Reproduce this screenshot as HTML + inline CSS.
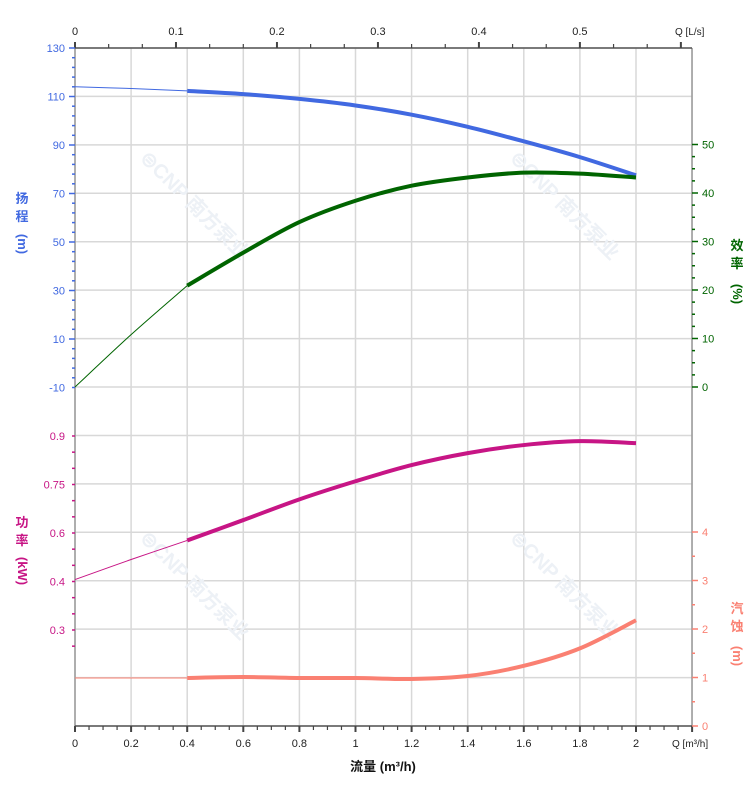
<!DOCTYPE html>
<html><head><meta charset="utf-8"><style>
body{margin:0;background:#fff;width:752px;height:797px;overflow:hidden;font-family:"Liberation Sans","Noto Sans CJK SC",sans-serif}
</style></head><body>
<svg id="c" width="752" height="797" xmlns="http://www.w3.org/2000/svg" style="font-family:'Liberation Sans','Noto Sans CJK SC',sans-serif;font-size:11px"></svg>
<script>
const flowQ=[0,0.2,0.4,0.6,0.8,1.0,1.2,1.4,1.6,1.8,2.0];
const headH=[114,113.3,112.3,111,109,106.3,102.5,97.5,91.5,85,77.5];
const effE=[0,10.8,20.9,27.7,34,38.4,41.5,43.2,44.2,44,43.2];
const powerP=[0.456,0.518,0.577,0.64,0.704,0.76,0.81,0.847,0.872,0.884,0.878];
const npshN=[0.99,0.99,0.99,1.01,0.99,0.99,0.97,1.03,1.24,1.6,2.18];
const bottomTicks=[0,0.2,0.4,0.6,0.8,1,1.2,1.4,1.6,1.8,2];
const topTicks=[0,0.1,0.2,0.3,0.4,0.5];
const headTicks=[130,110,90,70,50,30,10,-10];
const effTicks=[50,40,30,20,10,0];
const powerTicks=[0.9,0.75,0.6,0.45,0.3];
const powerLabels=["0.9","0.75","0.6","0.4","0.3"];
const npshTicks=[4,3,2,1,0];

const L=75,R=692,T=48,B=726;
const x=q=>L+q*280.5;
const xLs=v=>x(v*3.6);
const yH=h=>48+(130-h)*48.5/20;
const yE=e=>387-e*4.85;
const yP=p=>436+(0.9-p)*48.5/0.15;
const yN=n=>726-n*48.5;
const s=document.getElementById('c');
const NS='http://www.w3.org/2000/svg';
function el(t,a,txt){const e=document.createElementNS(NS,t);for(const k in a)e.setAttribute(k,a[k]);if(txt!==undefined)e.textContent=txt;s.appendChild(e);return e;}

for(let i=0;i<15;i++){const yy=48+i*48.43;const g=el('line',{x1:L,x2:R,y1:yy,y2:yy,stroke:'#d8d8d8','stroke-width':1.5});
}
for(let i=0;i<=11;i++){const xx=L+i*56.1;const g=el('line',{x1:xx,x2:xx,y1:T,y2:B,stroke:'#d8d8d8','stroke-width':1.5});
}

[[190,210],[560,210],[190,590],[560,590]].forEach(([a,b])=>{const w=el('text',{x:a,y:b,transform:`rotate(45 ${a} ${b})`,fill:'#edf1f6','font-size':20,'font-weight':'bold','text-anchor':'middle'},'⊜CNP 南方泵业');
});

const ax=[[L,T,L,B,'#999'],[R,T,R,B,'#999'],[L,B,R,B,'#555'],[L,T,R,T,'#555']];
ax.forEach(a=>{const l=el('line',{x1:a[0],y1:a[1],x2:a[2],y2:a[3],stroke:a[4],'stroke-width':1.5});});

for(let i=0;i<=44;i++){const xx=L+i*14.025;const big=i%4==0;el('line',{x1:xx,x2:xx,y1:B,y2:B+(big?6:4),stroke:'#444','stroke-width':big?2:1.2});}
bottomTicks.forEach(v=>{const t=el('text',{x:x(v),y:B+21,'text-anchor':'middle',fill:'#222'},String(v));});
let t=el('text',{x:672,y:B+21,fill:'#222','font-size':10},'Q [m³/h]');
t=el('text',{x:383,y:771,'text-anchor':'middle',fill:'#111','font-size':13,'font-weight':'bold'},'流量 (m³/h)');

for(let i=0;i<=18;i++){const xx=L+i*33.66;const big=i%3==0;el('line',{x1:xx,x2:xx,y1:T,y2:T-(big?6:4),stroke:'#444','stroke-width':big?2:1.2});}
topTicks.forEach(v=>{const t=el('text',{x:xLs(v),y:35,'text-anchor':'middle',fill:'#222'},String(v));});
t=el('text',{x:675,y:35,fill:'#222','font-size':10},'Q [L/s]');

for(let v=130;v>=-10;v-=4){el('line',{x1:L,x2:L-(v%20==10?6:3),y1:yH(v),y2:yH(v),stroke:'#4169e1','stroke-width':1.5});}
headTicks.forEach(v=>{const t=el('text',{x:L-10,y:yH(v)+4,'text-anchor':'end',fill:'#4169e1'},String(v));});
for(let p=0.9;p>=0.2;p-=0.05){el('line',{x1:L,x2:L-3,y1:yP(p),y2:yP(p),stroke:'#c71585','stroke-width':1.5});}
powerTicks.forEach((v,i)=>{const t=el('text',{x:L-10,y:yP(v)+4,'text-anchor':'end',fill:'#c71585'},powerLabels[i]);});
for(let e=50;e>=0;e-=2.5){el('line',{x1:R,x2:R+(e%10==0?6:3),y1:yE(e),y2:yE(e),stroke:'#006400','stroke-width':1.5});}
effTicks.forEach(v=>{const t=el('text',{x:R+10,y:yE(v)+4,fill:'#006400'},String(v));});
for(let n=4;n>=0;n-=0.5){el('line',{x1:R,x2:R+(n%1==0?6:3),y1:yN(n),y2:yN(n),stroke:'#fa8072','stroke-width':1.5});}
npshTicks.forEach(v=>{const t=el('text',{x:R+10,y:yN(v)+4,fill:'#fa8072'},String(v));});

function vt(xx,yy,chars,col,name){const g=document.createElementNS(NS,'g');s.appendChild(g);
chars.forEach((c,i)=>{const e=document.createElementNS(NS,'text');e.setAttribute('x',xx);e.setAttribute('y',yy+i*18);e.setAttribute('fill',col);e.setAttribute('font-size',13);e.setAttribute('font-weight','bold');e.setAttribute('text-anchor','middle');
if(c.length>1){e.setAttribute('transform',`rotate(90 ${xx} ${yy+i*18+4})`);e.setAttribute('y',yy+i*18+8);}e.textContent=c;g.appendChild(e);});}
vt(22,203,['扬','程'],'#4169e1','head-axis-title');vt(22,240,['(m)'],'#4169e1','head-axis-unit');
vt(737,250,['效','率'],'#006400','eff-axis-title');vt(737,290,['(%)'],'#006400','eff-axis-unit');
vt(22,527,['功','率'],'#c71585','power-axis-title');vt(22,567,['(kW)'],'#c71585','power-axis-unit');
vt(737,613,['汽','蚀'],'#fa8072','npsh-axis-title');vt(737,652,['(m)'],'#fa8072','npsh-axis-unit');

function path(pts){let d=`M${pts[0][0]},${pts[0][1]}`;for(let i=0;i<pts.length-1;i++){const p0=pts[i-1]||pts[i],p1=pts[i],p2=pts[i+1],p3=pts[i+2]||p2;
d+=` C${p1[0]+(p2[0]-p0[0])/6},${p1[1]+(p2[1]-p0[1])/6} ${p2[0]-(p3[0]-p1[0])/6},${p2[1]-(p3[1]-p1[1])/6} ${p2[0]},${p2[1]}`;}return d;}
function curve(vals,yf,col,name){const pts=flowQ.map((q,i)=>[x(q),yf(vals[i])]);
const thin=el('path',{d:path(pts.slice(0,3)),fill:'none',stroke:col,'stroke-width':1});
const th=el('path',{d:path(pts.slice(2)),fill:'none',stroke:col,'stroke-width':4});}
curve(headH,yH,'#4169e1','head-curve');
curve(effE,yE,'#006400','efficiency-curve');
curve(powerP,yP,'#c71585','power-curve');
curve(npshN,yN,'#fa8072','npsh-curve');
</script>
</body></html>
